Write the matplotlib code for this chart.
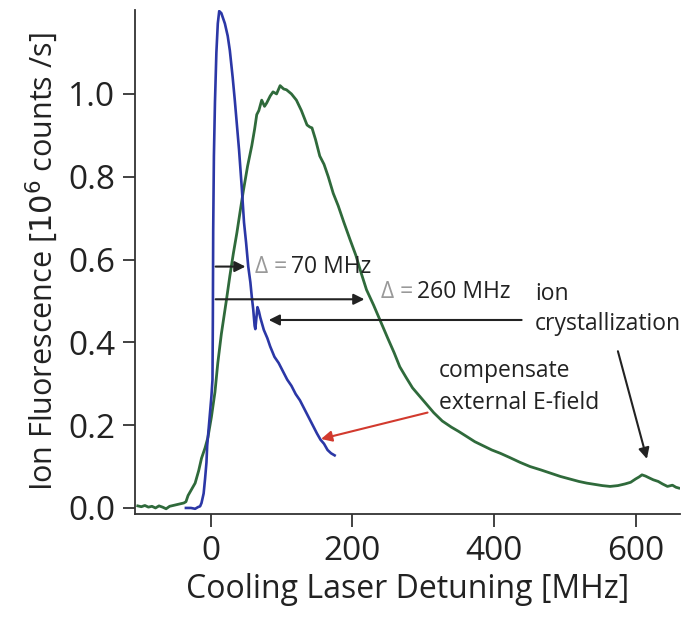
import numpy as np
import matplotlib.pyplot as plt

plt.rcParams['font.family'] = ['Open Sans', 'DejaVu Sans']

# Синяя кривая (с компенсацией поля)
blue_x = [-35, -28, -22, -18, -15, -13, -10, -8, -6, -5, -3, -1, 1, 2.5,
          3, 3.5, 4.5, 6, 8, 10, 12, 15, 20, 24, 27, 31, 34, 37, 40, 44,
          47, 50, 53, 56, 58, 60, 62, 63, 64, 66, 68, 70, 75, 80, 84, 90,
          96, 102, 108, 114, 120, 126, 132, 138, 144, 150, 155, 160, 165,
          170, 175]
blue_y = [0.0, 0.0, -0.002, 0.002, 0.004, 0.012, 0.035, 0.07, 0.11, 0.15,
          0.19, 0.23, 0.27, 0.31, 0.45, 0.67, 0.85, 0.98, 1.10, 1.17,
          1.20, 1.195, 1.17, 1.14, 1.105, 1.04, 0.985, 0.925, 0.865, 0.77,
          0.69, 0.64, 0.583, 0.545, 0.51, 0.48, 0.44, 0.432, 0.45, 0.485,
          0.475, 0.46, 0.43, 0.41, 0.39, 0.365, 0.35, 0.33, 0.31, 0.295,
          0.275, 0.26, 0.24, 0.22, 0.2, 0.18, 0.165, 0.155, 0.14, 0.132,
          0.127]

# Зелёная кривая (без компенсации)
green_x = [-103, -98, -93, -88, -83, -78, -73, -68, -63, -58, -53, -48,
           -43, -38, -35, -32, -27, -22, -17, -13, -8, -4, 1, 6, 10, 15,
           22, 27, 32, 37, 41, 46, 52, 58, 62, 65, 68, 72, 76, 79, 84, 88,
           93, 98, 103, 107, 114, 121, 128, 136, 140, 143, 148, 154, 160,
           166, 173, 180, 188, 197, 205, 212, 220, 230, 239, 250, 259, 267,
           276, 285, 295, 305, 315, 327, 340, 350, 362, 373, 385, 397, 409,
           422, 437, 451, 466, 480, 494, 507, 520, 531, 542, 553, 564, 575,
           585, 593, 600, 605, 609, 614, 620, 625, 632, 638, 645, 652, 657,
           661]
green_y = [0.005, 0.003, 0.006, 0.002, 0.004, 0.0, 0.005, 0.002, -0.002,
           0.004, 0.006, 0.008, 0.01, 0.012, 0.015, 0.03, 0.045, 0.06, 0.09,
           0.12, 0.145, 0.17, 0.22, 0.28, 0.35, 0.42, 0.5, 0.56, 0.615,
           0.665, 0.71, 0.765, 0.825, 0.875, 0.915, 0.95, 0.96, 0.985, 0.97,
           0.978, 0.995, 1.005, 1.0, 1.02, 1.012, 1.01, 1.0, 0.985, 0.96,
           0.925, 0.92, 0.918, 0.89, 0.85, 0.83, 0.8, 0.76, 0.73, 0.69,
           0.647, 0.61, 0.57, 0.527, 0.49, 0.454, 0.41, 0.375, 0.341, 0.315,
           0.29, 0.27, 0.25, 0.23, 0.21, 0.195, 0.185, 0.172, 0.16, 0.15,
           0.14, 0.132, 0.122, 0.11, 0.1, 0.092, 0.084, 0.076, 0.07, 0.064,
           0.06, 0.057, 0.054, 0.052, 0.054, 0.058, 0.062, 0.07, 0.075,
           0.08, 0.077, 0.072, 0.068, 0.064, 0.058, 0.052, 0.055, 0.05,
           0.048]

x_ticks = [0, 200, 400, 600]
y_ticks = [0.0, 0.2, 0.4, 0.6, 0.8, 1.0]

fig = plt.figure(figsize=(6.85, 6.17), dpi=100)
ax = fig.add_axes([0.197, 0.167, 0.796, 0.817])

ax.plot(green_x, green_y, color='#2f6a3b', lw=2.0)
ax.plot(blue_x, blue_y, color='#2b37a6', lw=1.9)

ax.set_xlim(-107, 663)
ax.set_ylim(-0.0145, 1.203)
ax.set_xticks(x_ticks)
ax.set_yticks(y_ticks)
ax.set_yticklabels(['%.1f' % v for v in y_ticks])

for side in ['top', 'right']:
    ax.spines[side].set_visible(False)
for side in ['left', 'bottom']:
    ax.spines[side].set_linewidth(1.3)
    ax.spines[side].set_color('#333333')

ax.tick_params(direction='out', length=9, width=1.3, color='#333333',
               labelsize=24, labelcolor='#222222')
ax.tick_params(axis='x', pad=6)
ax.tick_params(axis='y', pad=5)

ax.set_xlabel('Cooling Laser Detuning [MHz]', fontsize=23, color='#222222',
              labelpad=4)
ax.set_ylabel('Ion Fluorescence [$10^6$ counts /s]', fontsize=22,
              color='#222222', labelpad=6)

arrow = dict(arrowstyle='-|>', color='#222222', lw=1.5, mutation_scale=16)
fs = 16.5

# Δ = 70 MHz
ax.annotate('', xy=(53, 0.583), xytext=(3, 0.583), arrowprops=arrow)
ax.text(63, 0.583, 'Δ =', fontsize=fs, color='#999999', va='center')
ax.text(114, 0.583, '70 MHz', fontsize=fs, color='#222222', va='center')

# Δ = 260 MHz
ax.annotate('', xy=(221, 0.504), xytext=(3, 0.504), arrowprops=arrow)
ax.text(240, 0.522, 'Δ =', fontsize=fs, color='#999999', va='center')
ax.text(291, 0.522, '260 MHz', fontsize=fs, color='#222222', va='center')

# ion crystallization
ax.text(458, 0.516, 'ion', fontsize=fs, color='#222222', va='center')
ax.text(458, 0.444, 'crystallization', fontsize=fs, color='#222222',
        va='center')
ax.annotate('', xy=(78, 0.454), xytext=(443, 0.454), arrowprops=arrow)
ax.annotate('', xy=(617, 0.112), xytext=(574, 0.385), arrowprops=arrow)

# compensate external E-field
ax.text(322, 0.33, 'compensate', fontsize=fs, color='#222222', va='center')
ax.text(322, 0.253, 'external E-field', fontsize=fs, color='#222222',
        va='center')
ax.annotate('', xy=(152, 0.165), xytext=(310, 0.232),
            arrowprops=dict(arrowstyle='-|>', color='#d23a2e', lw=1.5,
                            mutation_scale=16))

fig.savefig('out.png', dpi=100)
